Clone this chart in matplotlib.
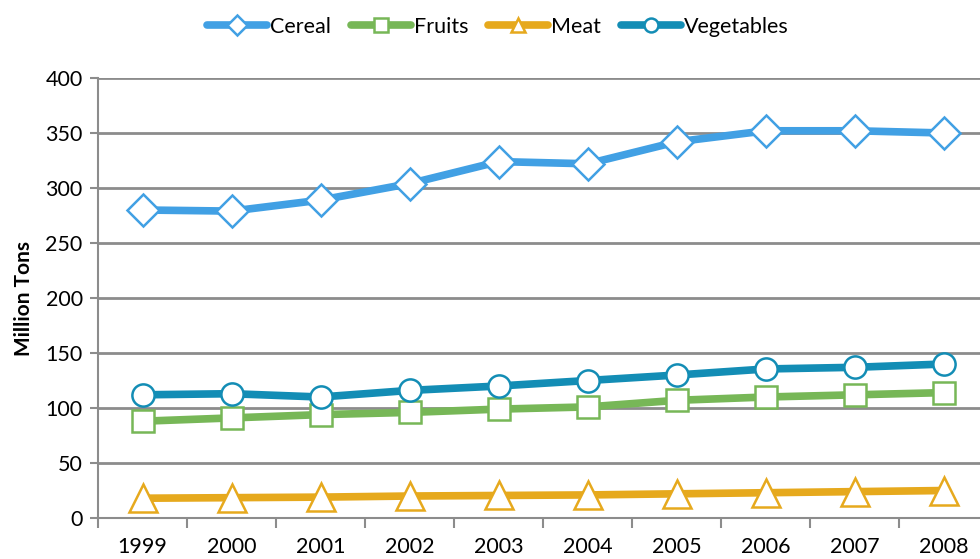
import matplotlib
matplotlib.use("Agg")
import matplotlib.pyplot as plt
from matplotlib.lines import Line2D

years = ["1999", "2000", "2001", "2002", "2003", "2004", "2005", "2006", "2007", "2008"]
cereal = [280, 279, 289, 304, 324, 322, 342, 352, 352, 350]
fruits = [88, 91, 94, 96, 99, 101, 107, 110, 112, 114]
meat = [18, 18.5, 19, 20, 20.5, 21, 22, 23, 24, 25]
vegetables = [112, 113, 110, 116, 120, 125, 130, 135.5, 137, 140]

plt.rcParams['font.family'] = ['Lato', 'DejaVu Sans']

fig = plt.figure(figsize=(9.8, 5.59), dpi=100)
ax = fig.add_axes([0.1, 0.0733, 0.9087, 0.7872])

x = list(range(len(years)))
series = [
    ("Cereal", cereal, "#41A0E4", "D", 16),
    ("Fruits", fruits, "#77B757", "s", 16),
    ("Meat", meat, "#E6A91D", "^", 20),
    ("Vegetables", vegetables, "#138DB5", "o", 16),
]
handles = []
for name, vals, col, mk, ms in series:
    ax.plot(x, vals, color=col, lw=5.5, marker=mk, ms=ms, mfc="white",
            mec=col, mew=1.8, clip_on=False, zorder=3, solid_capstyle="round")
    handles.append(Line2D([], [], color=col, lw=5.5, marker=mk, ms=10, mfc="white",
                          mec=col, mew=1.8, solid_capstyle="round"))

ax.set_xlim(-0.5, 9.5)
ax.set_ylim(0, 400)
ax.set_yticks(range(0, 401, 50))
ax.set_xticks(x)
ax.set_xticklabels(years)
ax.set_xticks([i - 0.5 for i in range(11)], minor=True)
ax.tick_params(axis='x', which='major', length=0, pad=14, labelsize=15.5)
ax.tick_params(axis='x', which='minor', length=7, width=1.5, color="#8c8c8c")
ax.tick_params(axis='y', length=6, width=1.5, color="#8c8c8c", labelsize=15.5, pad=5)
ax.grid(axis='y', color="#8c8c8c", lw=2, zorder=0)
ax.set_axisbelow(True)
for s in ["top", "right"]:
    ax.spines[s].set_visible(False)
for s in ["left", "bottom"]:
    ax.spines[s].set_color("#8c8c8c")
    ax.spines[s].set_linewidth(1.5)
ax.set_ylabel("Million Tons", fontsize=15, fontweight="bold", labelpad=8)

fig.legend(handles, [s[0] for s in series], loc="center", bbox_to_anchor=(0.508, 0.952),
           ncol=4, frameon=False, fontsize=15.5, handlelength=2.8, handletextpad=0.15,
           columnspacing=0.9)

fig.savefig("out.png", dpi=100)
